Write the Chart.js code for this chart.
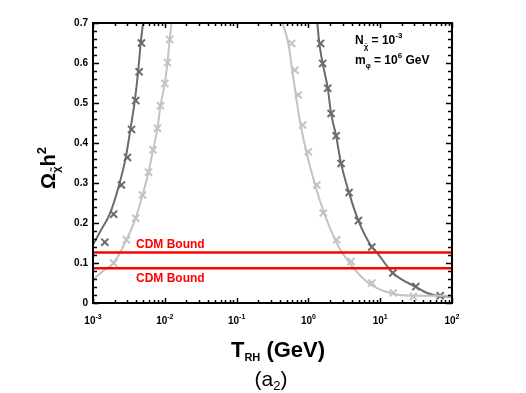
<!DOCTYPE html>
<html>
<head>
<meta charset="utf-8">
<script src="https://cdn.jsdelivr.net/npm/chart.js@4.4.0/dist/chart.umd.min.js"></script>
<style>
  html, body { margin: 0; padding: 0; background: #fff; }
</style>
</head>
<body>
<canvas id="chart" width="526" height="393"></canvas>
<script>
// curve data (x = T_RH in GeV, y = Omega h^2)
const darkLeftLineX = [1e-3, 1.3e-3, 1.71e-3, 2.31e-3, 2.86e-3, 3.32e-3, 3.82e-3, 4.25e-3, 4.62e-3, 4.98e-3];
const darkLeftLineY = [0.146, 0.183, 0.222, 0.295, 0.364, 0.434, 0.506, 0.578, 0.650, 0.700];
const darkRightLineX = [1.33, 1.42, 1.58, 1.86, 2.07, 2.43, 2.85, 3.68, 4.97, 7.63, 9.0, 15.0, 31.4, 45, 68.5, 100];
const darkRightLineY = [0.700, 0.649, 0.599, 0.537, 0.474, 0.418, 0.349, 0.276, 0.206, 0.140, 0.126, 0.075, 0.040, 0.025, 0.017, 0.016];
const lightLeftLineX = [1e-3, 1.38e-3, 1.94e-3, 2.92e-3, 3.93e-3, 4.89e-3, 5.93e-3, 6.87e-3, 7.91e-3, 8.71e-3, 1.0e-2, 1.09e-2, 1.17e-2, 1.24e-2];
const lightLeftLineY = [0.058, 0.080, 0.100, 0.158, 0.212, 0.270, 0.327, 0.383, 0.437, 0.493, 0.549, 0.601, 0.659, 0.700];
const lightRightLineX = [0.437, 0.525, 0.62, 0.78, 1.24, 2.35, 3.6, 6.84, 13.7, 30, 100];
const lightRightLineY = [0.700, 0.649, 0.560, 0.445, 0.295, 0.158, 0.104, 0.050, 0.025, 0.018, 0.018];

// markers (crosses)
const darkMarkX = [1.46e-3, 1.94e-3, 2.49e-3, 3.02e-3, 3.44e-3, 3.93e-3, 4.39e-3, 4.73e-3,
  1.48, 1.58, 1.86, 2.07, 2.43, 2.85, 3.68, 4.97, 7.63, 15.0, 31.4, 68.5];
const darkMarkY = [0.152, 0.222, 0.295, 0.364, 0.434, 0.506, 0.578, 0.650,
  0.649, 0.599, 0.537, 0.474, 0.418, 0.349, 0.276, 0.206, 0.140, 0.075, 0.041, 0.018];
const lightMarkX = [1.94e-3, 2.92e-3, 3.93e-3, 4.89e-3, 5.93e-3, 6.87e-3, 7.91e-3, 8.71e-3, 1.0e-2, 1.09e-2, 1.17e-2,
  0.585, 0.65, 0.723, 0.832, 0.997, 1.31, 1.61, 2.48, 3.93, 7.63, 15.2, 29];
const lightMarkY = [0.100, 0.158, 0.212, 0.270, 0.327, 0.383, 0.437, 0.493, 0.549, 0.601, 0.659,
  0.649, 0.582, 0.520, 0.445, 0.378, 0.295, 0.225, 0.158, 0.104, 0.050, 0.025, 0.016];

// CDM bounds
const cdmBounds = [0.126, 0.087];

const xTickExp = [-3, -2, -1, 0, 1, 2];
const yTicks = [0, 0.1, 0.2, 0.3, 0.4, 0.5, 0.6, 0.7];

const DARK = "#6b6b6b";
const LIGHT = "#c3c3c3";
const RED = "#ff0000";

const pts = (xs, ys) => xs.map((x, i) => ({ x: x, y: ys[i] }));

const lineSet = (xs, ys, color) => ({
  data: pts(xs, ys),
  showLine: true,
  borderColor: color,
  borderWidth: 2,
  pointRadius: 0,
  cubicInterpolationMode: "monotone",
  fill: false
});

const markSet = (xs, ys, color) => ({
  data: pts(xs, ys),
  showLine: false,
  pointStyle: "crossRot",
  pointRadius: 5,
  borderColor: color,
  borderWidth: 2
});

const datasets = [
  ...cdmBounds.map(v => ({
    data: [{ x: 1e-3, y: v }, { x: 1e2, y: v }],
    showLine: true, borderColor: RED, borderWidth: 2.5, pointRadius: 0
  })),
  lineSet(lightLeftLineX, lightLeftLineY, LIGHT),
  lineSet(lightRightLineX, lightRightLineY, LIGHT),
  markSet(lightMarkX, lightMarkY, LIGHT),
  lineSet(darkLeftLineX, darkLeftLineY, DARK),
  lineSet(darkRightLineX, darkRightLineY, DARK),
  markSet(darkMarkX, darkMarkY, DARK)
];

// draw text made of pieces: [text, size, dy, bold]
function drawParts(ctx, x, y, parts, align) {
  let total = 0;
  parts.forEach(p => {
    ctx.font = (p[3] === false ? "" : "bold ") + p[1] + "px 'Liberation Sans', Arial, sans-serif";
    total += ctx.measureText(p[0]).width;
  });
  let cx = align === "center" ? x - total / 2 : (align === "right" ? x - total : x);
  ctx.textAlign = "left";
  ctx.textBaseline = "alphabetic";
  parts.forEach(p => {
    ctx.font = (p[3] === false ? "" : "bold ") + p[1] + "px 'Liberation Sans', Arial, sans-serif";
    ctx.fillText(p[0], cx, y + (p[2] || 0));
    cx += ctx.measureText(p[0]).width;
  });
}

const framePlugin = {
  id: "frame",
  afterDraw(chart) {
    const ctx = chart.ctx;
    const xs = chart.scales.x, ys = chart.scales.y;
    const a = chart.chartArea;
    ctx.save();
    ctx.strokeStyle = "#000";
    ctx.fillStyle = "#000";

    // frame
    ctx.lineWidth = 2;
    ctx.strokeRect(a.left, a.top, a.right - a.left, a.bottom - a.top);

    // x ticks (log): major at decades, minor 2..9
    ctx.lineWidth = 1.5;
    for (let e = -3; e <= 2; e++) {
      for (let m = 1; m <= 9; m++) {
        const v = m * Math.pow(10, e);
        if (v > 100.0001) break;
        const px = Math.round(xs.getPixelForValue(v)) + 0.5;
        const len = m === 1 ? 5 : 3;
        ctx.beginPath();
        ctx.moveTo(px, a.bottom); ctx.lineTo(px, a.bottom - len);
        ctx.moveTo(px, a.top); ctx.lineTo(px, a.top + len);
        ctx.stroke();
      }
    }
    // y ticks: major 0.1, minor 0.02
    for (let i = 0; i <= 35; i++) {
      const v = i * 0.02;
      const py = Math.round(ys.getPixelForValue(v)) + 0.5;
      const len = i % 5 === 0 ? 6 : 4;
      ctx.beginPath();
      ctx.moveTo(a.left, py); ctx.lineTo(a.left + len, py);
      ctx.moveTo(a.right, py); ctx.lineTo(a.right - len, py);
      ctx.stroke();
    }

    // tick labels
    ctx.font = "bold 10px 'Liberation Sans', Arial, sans-serif";
    ctx.textAlign = "right";
    ctx.textBaseline = "middle";
    yTicks.forEach(v => {
      ctx.fillText(v === 0 ? "0" : v.toFixed(1), a.left - 5, ys.getPixelForValue(v));
    });
    xTickExp.forEach(e => {
      const px = xs.getPixelForValue(Math.pow(10, e));
      drawParts(ctx, px, a.bottom + 21, [["10", 10, 0], [String(e), 7, -5]], "center");
    });

    // CDM labels
    ctx.fillStyle = RED;
    drawParts(ctx, 136, ys.getPixelForValue(cdmBounds[0]) - 5, [["CDM Bound", 12, 0]], "left");
    drawParts(ctx, 136, ys.getPixelForValue(cdmBounds[1]) + 14, [["CDM Bound", 12, 0]], "left");

    // annotation
    ctx.fillStyle = "#000";
    drawParts(ctx, 355, 44, [["N", 12, 0], ["χ\u0303", 8, 5], [" = 10", 12, 0], ["-3", 8, -6]], "left");
    drawParts(ctx, 355, 64, [["m", 12, 0], ["φ", 7, 4], [" = 10", 12, 0], ["6", 8, -6], [" GeV", 12, 0]], "left");

    // axis titles
    drawParts(ctx, 278, 357, [["T", 22, 0], ["RH", 11, 4], [" (GeV)", 22, 0]], "center");
    drawParts(ctx, 271, 386, [["(a", 21, 0, false], ["2", 13, 4, false], [")", 21, 0, false]], "center");

    ctx.translate(55, 168);
    ctx.rotate(-Math.PI / 2);
    drawParts(ctx, 0, 0, [["Ω", 20, 0], ["χ\u0303", 11, 5], ["h", 20, 0], ["2", 13, -9]], "center");
    ctx.restore();
  }
};

new Chart(document.getElementById("chart"), {
  type: "scatter",
  data: { datasets: datasets },
  options: {
    responsive: false,
    animation: false,
    layout: { padding: { left: 93, right: 74, top: 23, bottom: 90 } },
    plugins: { legend: { display: false }, tooltip: { enabled: false } },
    scales: {
      x: {
        type: "logarithmic", min: 1e-3, max: 1e2,
        grid: { display: false }, border: { display: false },
        ticks: { display: false },
        afterFit: s => { s.height = 0; }
      },
      y: {
        min: 0, max: 0.7,
        grid: { display: false }, border: { display: false },
        ticks: { display: false },
        afterFit: s => { s.width = 0; }
      }
    }
  },
  plugins: [framePlugin]
});
</script>
</body>
</html>
